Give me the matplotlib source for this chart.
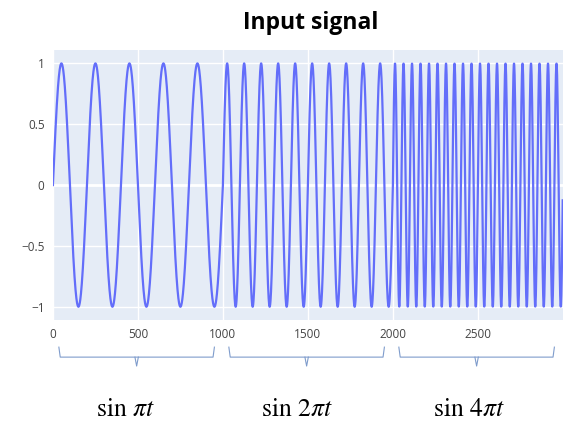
import numpy as np
import matplotlib.pyplot as plt
import matplotlib.transforms as mtransforms

# signal segments: each lasts 10 time units, sampled every 0.01
seg_freqs = [1, 2, 4]          # sin(k*pi*t)
seg_labels = [r'$\sin\,\pi t$', r'$\sin\,2\pi t$', r'$\sin\,4\pi t$']
label_x = [424, 1435, 2447]
seg_len = 1000
dt = 0.01

xtick_vals = [0, 500, 1000, 1500, 2000, 2500]
ytick_vals = [-1, -0.5, 0, 0.5, 1]
ytick_labels = ['\u22121', '\u22120.5', '0', '0.5', '1']

# build the signal from the segment definitions
parts = []
for i, k in enumerate(seg_freqs):
    t = (np.arange(seg_len) + i * seg_len) * dt
    parts.append(np.sin(k * np.pi * t))
signal = np.concatenate(parts)
x = np.arange(len(signal))

plt.rcParams['font.family'] = ['Open Sans', 'DejaVu Sans']
plt.rcParams['mathtext.fontset'] = 'stix'

fig = plt.figure(figsize=(5.88, 4.24), dpi=100)
ax = fig.add_axes([0.090, 0.245, 0.867, 0.637])
ax.set_facecolor('#E5ECF6')
ax.plot(x, signal, color='#636EFA', lw=1.6, zorder=3)

ax.set_xlim(0, len(signal) - 1)
ax.set_ylim(-1.11, 1.11)
ax.set_xticks(xtick_vals)
ax.set_yticks(ytick_vals)
ax.set_yticklabels(ytick_labels)
ax.grid(True, color='white', lw=1.0, zorder=0)
ax.axhline(0, color='white', lw=2, zorder=1)
ax.set_axisbelow(True)
for s in ax.spines.values():
    s.set_visible(False)
ax.tick_params(length=0, labelsize=8.5, labelcolor='#444444', pad=6)

ax.set_title('Input signal', fontsize=16.5, fontweight='bold', pad=15, x=0.505)

# curly-ish brackets under each segment
trans = mtransforms.blended_transform_factory(ax.transData, ax.transAxes)
br_color = '#7f9ccc'
y_top, y_mid, y_tip = -0.10, -0.137, -0.17
for i, lab in enumerate(seg_labels):
    x0 = i * seg_len + 35
    x1 = (i + 1) * seg_len - 50
    xc = (x0 + x1) / 2
    ax.plot([x0, x0 + 8, x1 - 8, x1], [y_top, y_mid, y_mid, y_top],
            color=br_color, lw=0.8, transform=trans, clip_on=False)
    ax.plot([xc - 10, xc, xc + 10], [y_mid, y_tip, y_mid],
            color=br_color, lw=0.8, transform=trans, clip_on=False)
    ax.text(label_x[i], -0.33, lab, transform=trans, ha='center', va='center',
            fontsize=18.5, color='black')

plt.savefig('out.png', dpi=100)
